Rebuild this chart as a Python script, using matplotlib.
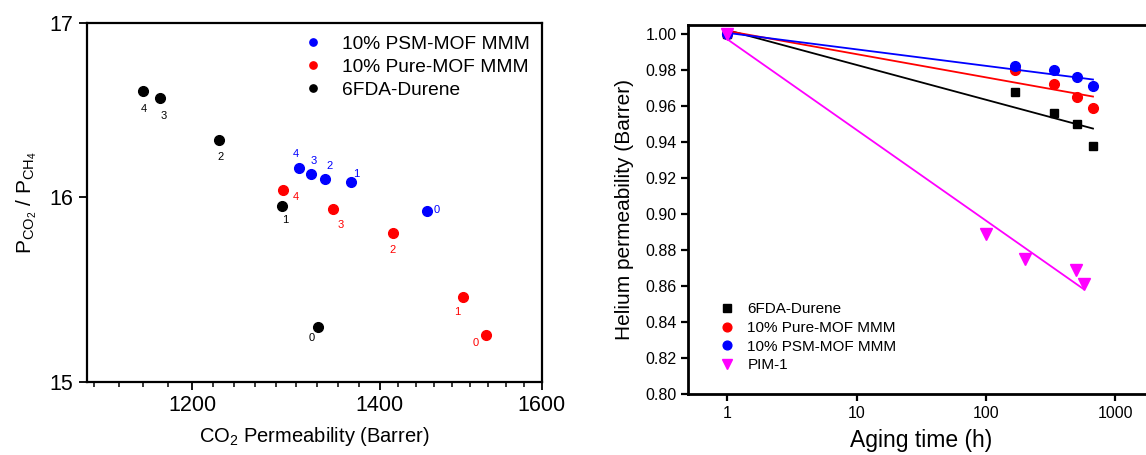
import matplotlib
matplotlib.use("Agg")
import matplotlib.pyplot as plt
from matplotlib.ticker import FixedLocator, NullLocator, FixedFormatter
import numpy as np

plt.rcParams['font.family'] = ['Liberation Sans', 'DejaVu Sans']
plt.rcParams['mathtext.fontset'] = 'custom'
plt.rcParams['mathtext.rm'] = 'Liberation Sans'

# ---- left panel data: CO2 permeability vs CO2/CH4 selectivity ----
point_ids = ['0', '1', '2', '3', '4']
psm_perm = [1456, 1367, 1339, 1323, 1310]
psm_sel = [15.92, 16.08, 16.10, 16.13, 16.16]
pure_perm = [1528, 1499, 1415, 1347, 1293]
pure_sel = [15.25, 15.45, 15.80, 15.93, 16.04]
durene_perm = [1331, 1292, 1227, 1168, 1152]
durene_sel = [15.29, 15.95, 16.32, 16.56, 16.60]

# ---- right panel data: helium permeability ageing ----
age_h = [1, 168, 336, 504, 672]
he_durene = [1.000, 0.968, 0.956, 0.950, 0.938]
he_pure = [1.000, 0.980, 0.972, 0.965, 0.959]
he_psm = [1.000, 0.982, 0.980, 0.976, 0.971]
pim_age_h = [1, 100, 200, 500, 570]
he_pim = [1.000, 0.889, 0.875, 0.869, 0.861]

# label offsets (points) for the numbers next to each left-panel marker
psm_off = [(7, 1), (4, 6), (3, 9), (2, 9), (-2, 10)]
pure_off = [(-7, -6), (-4, -11), (0, -12), (6, -11), (9, -5)]
durene_off = [(-5, -8), (2, -10), (1, -12), (3, -13), (1, -13)]

fig = plt.figure(figsize=(11.46, 4.55), dpi=100)

# ================= left panel =================
ax1 = fig.add_axes([0.0757, 0.1604, 0.397, 0.7896])
series = [
    ('10% PSM-MOF MMM', psm_perm, psm_sel, '#0000FF', psm_off),
    ('10% Pure-MOF MMM', pure_perm, pure_sel, '#FF0000', pure_off),
    ('6FDA-Durene', durene_perm, durene_sel, '#000000', durene_off),
]
for name, xs, ys, col, offs in series:
    ax1.plot(xs, ys, 'o', color=col, ms=7, mec=col, label=name, ls='none')
    for pid, x, y, off in zip(point_ids, xs, ys, offs):
        ax1.annotate(pid, (x, y), xytext=off, textcoords='offset points',
                     ha='center', va='center', fontsize=8, color=col)

ax1.set_xscale('log')
ax1.set_yscale('log')
ax1.set_xlim(1100, 1600)
ax1.set_ylim(15, 17)

x_major = [1200, 1400, 1600]
ax1.xaxis.set_major_locator(FixedLocator(x_major))
ax1.xaxis.set_major_formatter(FixedFormatter([str(v) for v in x_major]))
# Origin style: 8 minor ticks evenly spaced (in log) between majors
edges = [1000] + x_major
minors = []
for a, b in zip(edges[:-1], edges[1:]):
    minors += list(np.logspace(np.log10(a), np.log10(b), 10)[1:-1])
ax1.xaxis.set_minor_locator(FixedLocator(minors))
ax1.xaxis.set_minor_formatter(FixedFormatter([''] * len(minors)))

y_major = [15, 16, 17]
ax1.yaxis.set_major_locator(FixedLocator(y_major))
ax1.yaxis.set_major_formatter(FixedFormatter([str(v) for v in y_major]))
ax1.yaxis.set_minor_locator(NullLocator())

ax1.tick_params(axis='both', which='major', direction='out', length=6, width=1.3,
                labelsize=15.5)
ax1.tick_params(axis='x', which='minor', direction='out', length=3.5, width=1.1)
for sp in ax1.spines.values():
    sp.set_linewidth(1.6)

ax1.set_xlabel(r'CO$_{\mathregular{2}}$ Permeability (Barrer)', fontsize=14.5, labelpad=6)
ax1.set_ylabel(r'P$_{\mathregular{CO_2}}$ / P$_{\mathregular{CH_4}}$', fontsize=15, labelpad=8)

ax1.legend(loc='upper right', frameon=False, fontsize=13.8, markerscale=0.75,
           handletextpad=0.5, labelspacing=0.3, borderaxespad=0.5,
           bbox_to_anchor=(1.012, 1.013))

# ================= right panel =================
ax2 = fig.add_axes([0.6006, 0.134, 0.4066, 0.811])
ax2.set_xscale('log')

rseries = [
    ('6FDA-Durene', age_h, he_durene, '#000000', 's', 6),
    ('10% Pure-MOF MMM', age_h, he_pure, '#FF0000', 'o', 7),
    ('10% PSM-MOF MMM', age_h, he_psm, '#0000FF', 'o', 7),
    ('PIM-1', pim_age_h, he_pim, '#FF00FF', 'v', 8),
]
for name, xs, ys, col, mk, ms in rseries:
    lx = np.log10(xs)
    slope, icpt = np.polyfit(lx, ys, 1)
    xf = np.array([min(xs), max(xs)])
    ax2.plot(xf, icpt + slope * np.log10(xf), '-', color=col, lw=1.3)
    ax2.plot(xs, ys, mk, color=col, ms=ms, ls='none', label=name)

ax2.set_xlim(0.5, 2000)
ax2.set_ylim(0.80, 1.005)
ax2.xaxis.set_major_locator(FixedLocator([1, 10, 100, 1000]))
ax2.xaxis.set_major_formatter(FixedFormatter(['1', '10', '100', '1000']))
ax2.xaxis.set_minor_locator(NullLocator())
ax2.set_yticks(np.arange(0.80, 1.001, 0.02))
ax2.set_yticklabels(['%.2f' % v for v in np.arange(0.80, 1.001, 0.02)])
ax2.tick_params(axis='both', direction='out', length=5, width=1.6, labelsize=11.5)
for sp in ax2.spines.values():
    sp.set_linewidth(2.0)

ax2.set_xlabel('Aging time (h)', fontsize=16.5, labelpad=6)
ax2.set_ylabel('Helium permeability (Barrer)', fontsize=15, labelpad=8)

ax2.legend(loc='lower left', frameon=False, fontsize=11, handletextpad=0.35,
           labelspacing=0.3, bbox_to_anchor=(0.02, 0.022), markerscale=0.9)

fig.savefig('out.png', dpi=100)
